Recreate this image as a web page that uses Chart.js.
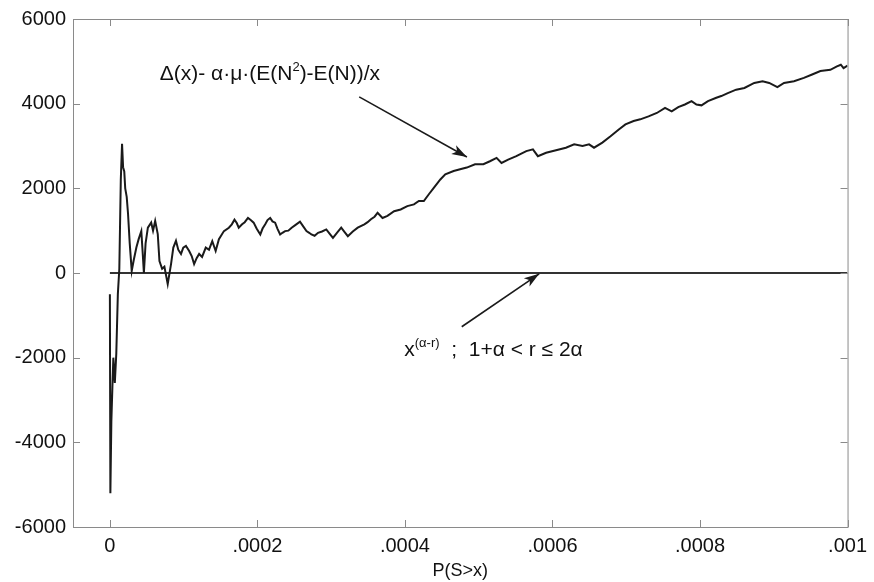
<!DOCTYPE html>
<html>
<head>
<meta charset="utf-8">
<script src="https://cdn.jsdelivr.net/npm/chart.js@4/dist/chart.umd.min.js"></script>
<style>
html,body{margin:0;padding:0;background:#fff;}
#wrap{width:874px;height:582px;position:relative;}
</style>
</head>
<body>
<div id="wrap"><canvas id="c" width="874" height="582"></canvas></div>
<script>
// P(S>x) values (x axis)
const xs = [0, 6.7e-7, 2.0e-6, 3.4e-6, 4.7e-6, 6.7e-6, 8.7e-6, 1.08e-5, 1.28e-5, 1.48e-5,
  1.65e-5, 1.79e-5, 1.95e-5, 2.08e-5, 2.28e-5, 2.46e-5, 2.69e-5, 2.96e-5, 3.23e-5, 3.59e-5,
  3.90e-5, 4.26e-5, 4.44e-5, 4.61e-5, 4.84e-5, 5.15e-5, 5.60e-5, 5.85e-5, 6.14e-5, 6.49e-5,
  6.72e-5, 7.08e-5, 7.39e-5, 7.84e-5, 8.29e-5, 8.60e-5, 8.96e-5, 9.27e-5, 9.64e-5, 9.95e-5,
  1.031e-4, 1.075e-4, 1.109e-4, 1.142e-4, 1.176e-4, 1.210e-4, 1.250e-4, 1.300e-4, 1.344e-4, 1.388e-4,
  1.434e-4, 1.478e-4, 1.546e-4, 1.613e-4, 1.653e-4, 1.689e-4, 1.720e-4, 1.747e-4, 1.792e-4, 1.828e-4,
  1.872e-4, 1.909e-4, 1.949e-4, 1.989e-4, 2.039e-4, 2.070e-4, 2.106e-4, 2.137e-4, 2.173e-4, 2.204e-4,
  2.240e-4, 2.271e-4, 2.308e-4, 2.339e-4, 2.375e-4, 2.419e-4, 2.464e-4, 2.513e-4, 2.577e-4, 2.621e-4,
  2.665e-4, 2.702e-4, 2.732e-4, 2.775e-4, 2.822e-4, 2.876e-4, 2.934e-4, 2.970e-4, 3.024e-4, 3.078e-4,
  3.136e-4, 3.185e-4, 3.226e-4, 3.293e-4, 3.360e-4, 3.450e-4, 3.494e-4, 3.539e-4, 3.588e-4, 3.629e-4,
  3.696e-4, 3.763e-4, 3.853e-4, 3.942e-4, 4.032e-4, 4.122e-4, 4.189e-4, 4.256e-4, 4.324e-4, 4.391e-4,
  4.480e-4, 4.547e-4, 4.660e-4, 4.748e-4, 4.838e-4, 4.950e-4, 5.063e-4, 5.152e-4, 5.242e-4, 5.309e-4,
  5.399e-4, 5.510e-4, 5.645e-4, 5.735e-4, 5.802e-4, 5.914e-4, 6.048e-4, 6.182e-4, 6.294e-4, 6.407e-4,
  6.496e-4, 6.563e-4, 6.676e-4, 6.787e-4, 6.899e-4, 6.989e-4, 7.100e-4, 7.190e-4, 7.302e-4, 7.415e-4,
  7.526e-4, 7.616e-4, 7.705e-4, 7.795e-4, 7.885e-4, 7.952e-4, 8.020e-4, 8.108e-4, 8.221e-4, 8.288e-4,
  8.377e-4, 8.490e-4, 8.602e-4, 8.736e-4, 8.848e-4, 8.938e-4, 9.049e-4, 9.139e-4, 9.274e-4, 9.408e-4,
  9.520e-4, 9.632e-4, 9.767e-4, 9.856e-4, 9.909e-4, 9.946e-4, 1.0e-3];
// Δ(x)- α·μ·(E(N²)-E(N))/x values
const ys = [-500, -5200, -3500, -2700, -2000, -2600, -1900, -500, 100, 2200,
  3050, 2500, 2400, 2000, 1800, 1400, 700, 50, 300, 600,
  800, 990, 500, 0, 700, 1070, 1190, 1000, 1230, 920,
  280, 100, 150, -260, 210, 600, 760, 550, 450, 600,
  640, 520, 400, 210, 350, 450, 380, 600, 550, 750,
  520, 800, 990, 1070, 1150, 1260, 1180, 1070, 1150, 1200,
  1300, 1250, 1190, 1050, 910, 1050, 1150, 1250, 1300, 1220,
  1190, 1050, 910, 950, 990, 1000, 1070, 1130, 1210, 1100,
  990, 950, 910, 880, 950, 980, 1030, 950, 830, 950,
  1070, 960, 870, 980, 1070, 1150, 1200, 1270, 1330, 1420,
  1300, 1350, 1460, 1500, 1580, 1620, 1700, 1700, 1860, 2010,
  2210, 2330, 2410, 2450, 2490, 2570, 2570, 2640, 2720, 2600,
  2680, 2760, 2880, 2920, 2760, 2840, 2900, 2960, 3040, 3000,
  3040, 2960, 3080, 3230, 3390, 3510, 3590, 3630, 3700, 3780,
  3900, 3820, 3920, 3980, 4060, 3980, 3960, 4060, 4140, 4180,
  4250, 4330, 4370, 4490, 4530, 4490, 4390, 4490, 4530, 4610,
  4690, 4770, 4800, 4880, 4920, 4840, 4900];
// zero reference line x^(α-r)
const refXs = [0, 0.001];
const refYs = [0, 0];

const xTicks = [0, 0.0002, 0.0004, 0.0006, 0.0008, 0.001];
const xTickLabels = ['0', '.0002', '.0004', '.0006', '.0008', '.001'];
const yTicks = [-6000, -4000, -2000, 0, 2000, 4000, 6000];
const yTickLabels = ['-6000', '-4000', '-2000', '0', '2000', '4000', '6000'];
const xTitle = 'P(S>x)';

const FONT = '"Liberation Sans", Arial, sans-serif';

const boxPlugin = {
  id: 'box',
  afterDatasetsDraw(chart) {
    const ctx = chart.ctx, a = chart.chartArea;
    const xs_ = chart.scales.x, ys_ = chart.scales.y;
    ctx.save();
    ctx.strokeStyle = '#8a8a8a';
    ctx.lineWidth = 1;
    ctx.strokeRect(a.left + 0.5, a.top + 0.5, a.right - a.left, a.bottom - a.top);
    const L = 7;
    ctx.beginPath();
    xTicks.forEach(v => {
      const p = Math.round(xs_.getPixelForValue(v)) + 0.5;
      ctx.moveTo(p, a.top); ctx.lineTo(p, a.top + L);
      ctx.moveTo(p, a.bottom); ctx.lineTo(p, a.bottom - L);
    });
    yTicks.forEach(v => {
      const p = Math.round(ys_.getPixelForValue(v)) + 0.5;
      ctx.moveTo(a.left, p); ctx.lineTo(a.left + L, p);
      ctx.moveTo(a.right, p); ctx.lineTo(a.right - L, p);
    });
    ctx.stroke();

    // annotations
    const px = v => xs_.getPixelForValue(v), py = v => ys_.getPixelForValue(v);
    ctx.fillStyle = '#111';
    ctx.textBaseline = 'alphabetic';
    ctx.textAlign = 'left';
    const big = '21px ' + FONT, sup = '13px ' + FONT;
    function runs(parts, x, y) {
      parts.forEach(p => {
        ctx.font = p.s ? sup : big;
        ctx.fillText(p.t, x, y + (p.s ? -9 : 0));
        x += ctx.measureText(p.t).width;
      });
    }
    runs([{t:'\u0394(x)- \u03b1\u00b7\u03bc\u00b7(E(N'},{t:'2',s:1},{t:')-E(N))/x'}], px(0.0000675), py(4555));
    runs([{t:'x'},{t:'(\u03b1-r)',s:1},{t:'  ;  1+\u03b1 < r \u2264 2\u03b1'}], px(0.000399), py(-1960));

    function arrow(x1, y1, x2, y2) {
      ctx.strokeStyle = '#1a1a1a';
      ctx.lineWidth = 1.6;
      ctx.beginPath(); ctx.moveTo(x1, y1); ctx.lineTo(x2, y2); ctx.stroke();
      const ang = Math.atan2(y2 - y1, x2 - x1), h = 16, w = 0.32;
      ctx.beginPath();
      ctx.moveTo(x2, y2);
      ctx.lineTo(x2 - h * Math.cos(ang - w), y2 - h * Math.sin(ang - w));
      ctx.lineTo(x2 - h * 0.7 * Math.cos(ang), y2 - h * 0.7 * Math.sin(ang));
      ctx.lineTo(x2 - h * Math.cos(ang + w), y2 - h * Math.sin(ang + w));
      ctx.closePath();
      ctx.fillStyle = '#1a1a1a';
      ctx.fill();
    }
    arrow(px(0.000338), py(4160), px(0.000484), py(2740));
    arrow(px(0.000477), py(-1270), px(0.000582), py(-20));
    ctx.restore();
  }
};

new Chart(document.getElementById('c'), {
  type: 'line',
  data: {
    datasets: [
      {
        data: xs.map((x, i) => ({x: x, y: ys[i]})),
        borderColor: '#1a1a1a', borderWidth: 2, pointRadius: 0, tension: 0, fill: false
      },
      {
        data: refXs.map((x, i) => ({x: x, y: refYs[i]})),
        borderColor: '#333333', borderWidth: 2, pointRadius: 0, tension: 0, fill: false
      }
    ]
  },
  options: {
    responsive: false,
    animation: false,
    devicePixelRatio: 1,
    layout: { padding: { top: 19, right: 20, left: 0, bottom: 0 } },
    plugins: { legend: { display: false }, tooltip: { enabled: false } },
    scales: {
      x: {
        type: 'linear', min: -0.00005, max: 0.001,
        afterBuildTicks: s => { s.ticks = xTicks.map(v => ({value: v})); },
        afterFit: s => { s.height = 55; },
        grid: { display: false, drawTicks: false },
        border: { display: false },
        ticks: {
          autoSkip: false, maxRotation: 0, padding: 7, color: '#111',
          font: { size: 20, family: FONT },
          callback: v => xTickLabels[xTicks.indexOf(v)]
        },
        title: { display: true, text: xTitle, color: '#111', font: { size: 18, family: FONT }, padding: { top: 0, bottom: 0 } }
      },
      y: {
        type: 'linear', min: -6000, max: 6000,
        afterBuildTicks: s => { s.ticks = yTicks.map(v => ({value: v})); },
        afterFit: s => { s.width = 73; },
        grid: { display: false, drawTicks: false },
        border: { display: false },
        ticks: {
          autoSkip: false, padding: 7, color: '#111',
          font: { size: 20, family: FONT },
          callback: v => yTickLabels[yTicks.indexOf(v)]
        }
      }
    }
  },
  plugins: [boxPlugin]
});
</script>
</body>
</html>
